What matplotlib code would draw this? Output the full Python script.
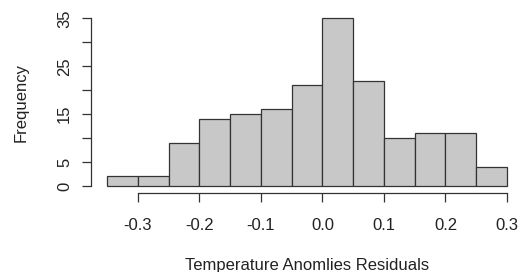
import matplotlib
matplotlib.use('Agg')
import matplotlib.pyplot as plt
import numpy as np

# histogram bins (width 0.05) and counts
bin_edges = [-0.35, -0.30, -0.25, -0.20, -0.15, -0.10, -0.05, 0.00,
             0.05, 0.10, 0.15, 0.20, 0.25, 0.30]
counts = [2, 2, 9, 14, 15, 16, 21, 35, 22, 10, 11, 11, 4]
x_ticks = [-0.3, -0.2, -0.1, 0.0, 0.1, 0.2, 0.3]
x_labels = ['-0.3', '-0.2', '-0.1', '0.0', '0.1', '0.2', '0.3']
y_ticks = [0, 5, 10, 15, 20, 25, 30, 35]
y_labels = ['0', '5', '', '15', '', '25', '', '35']

plt.rcParams['font.family'] = ['Liberation Sans', 'DejaVu Sans']

fig = plt.figure(figsize=(5.23, 2.72), dpi=100)
W, H = 523, 272
ax = fig.add_axes([91 / W, 1 - 192.7 / H, (523 - 91) / W, (192.7 - 11.6) / H])

centers = [(a + b) / 2 for a, b in zip(bin_edges[:-1], bin_edges[1:])]
ax.hist(centers, bins=bin_edges, weights=counts, color='#c8c8c8',
        edgecolor='#333333', linewidth=0.9)

ax.set_xlim(-0.376, 0.326)
ax.set_ylim(-1.4, 36.4)

for s in ['top', 'right']:
    ax.spines[s].set_visible(False)
ax.spines['left'].set_bounds(0, 35)
ax.spines['bottom'].set_bounds(-0.3, 0.3)
for s in ['left', 'bottom']:
    ax.spines[s].set_color('#333333')
    ax.spines[s].set_linewidth(0.9)

ax.set_xticks(x_ticks)
ax.set_xticklabels(x_labels)
ax.set_yticks(y_ticks)
ax.set_yticklabels(y_labels, rotation=90, va='center')
ax.tick_params(axis='both', length=6.5, width=0.9, color='#333333',
               labelsize=12, labelcolor='#222222')
ax.tick_params(axis='x', pad=12)
ax.tick_params(axis='y', pad=7)

ax.set_xlabel('Temperature Anomlies Residuals', fontsize=12, color='#222222', labelpad=17.5)
ax.set_ylabel('Frequency', fontsize=12, color='#222222', labelpad=20.5)

fig.savefig('out.png', dpi=100)
